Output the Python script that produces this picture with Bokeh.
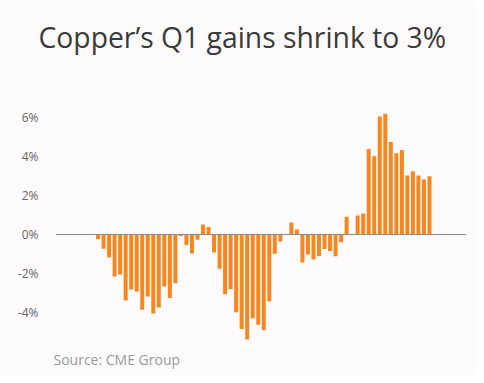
from bokeh.plotting import figure
from bokeh.models import Span, Title, FixedTicker, Range1d
from bokeh.embed import file_html
from bokeh.resources import INLINE

# Monthly copper price change (%)
changes = [-0.24, -0.73, -1.18, -2.15, -2.05, -3.38, -2.82, -2.92, -3.86, -3.18,
           -4.05, -3.74, -2.67, -3.26, -2.50, -0.08, -0.53, -0.97, -0.27, 0.51,
           0.39, -0.92, -1.76, -3.06, -2.80, -3.98, -4.85, -5.38, -4.29, -4.63,
           -4.89, -3.42, -0.99, -0.36, 0.0, 0.62, 0.26, -1.44, -1.01, -1.28,
           -1.11, -0.74, -0.85, -1.11, -0.39, 0.91, 0.03, 0.97, 1.08, 4.39,
           4.02, 6.05, 6.20, 4.75, 4.17, 4.34, 3.03, 3.25, 3.03, 2.82, 2.99]
positions = list(range(len(changes)))
tick_values = [-4, -2, 0, 2, 4, 6]
tick_labels = {v: f"{v}%" for v in tick_values}

BG = "#fcfafa"
ORANGE = "#f7861f"

p = figure(width=476, height=375, output_backend="svg", toolbar_location=None,
           x_range=Range1d(-7.7, 66.7), y_range=Range1d(-5.69, 7.13),
           min_border_left=55, min_border_right=10, min_border_top=95,
           min_border_bottom=30)
p.background_fill_color = BG
p.border_fill_color = BG
p.outline_line_color = None
p.xaxis.visible = False
p.grid.visible = False

ax = p.yaxis[0]
ax.ticker = FixedTicker(ticks=tick_values)
ax.major_label_overrides = tick_labels
ax.axis_line_color = None
ax.major_tick_line_color = None
ax.minor_tick_line_color = None
ax.major_tick_out = 0
ax.major_tick_in = 0
ax.major_label_standoff = 17
ax.major_label_text_font = "Open Sans"
ax.major_label_text_font_size = "12px"
ax.major_label_text_color = "#666666"

p.vbar(x=positions, top=changes, bottom=0, width=0.72, fill_color=ORANGE,
       line_color=None)

p.add_layout(Span(location=0, dimension="width", line_color="#8a8a8a", line_width=1))

# blank spacer between the frame and the title
p.add_layout(Title(text=" ", text_font_size="1px", text_color=BG,
                   standoff=37), "above")
p.add_layout(Title(text="Copper\u2019s Q1 gains shrink to 3%", align="left",
                   offset=-17, text_font="Open Sans", text_font_size="28.3px",
                   text_font_style="normal", text_color="#3a3a3a",
                   standoff=0), "above")
p.add_layout(Title(text="Source: CME Group", align="left", offset=-2,
                   text_font="Open Sans", text_font_size="14px",
                   text_font_style="normal", text_color="#9a9a9a",
                   standoff=4), "below")

open("out.html", "w").write(file_html(p, INLINE))
